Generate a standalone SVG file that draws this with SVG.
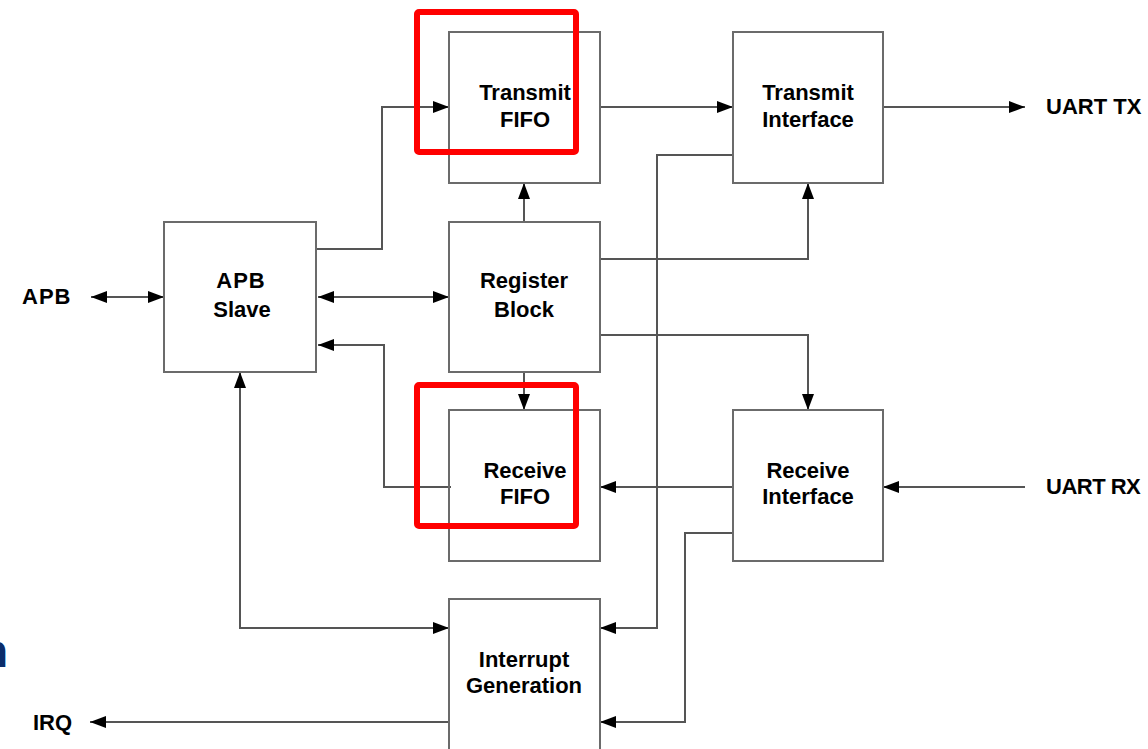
<svg xmlns="http://www.w3.org/2000/svg" width="1148" height="749" viewBox="0 0 1148 749">
<style>
.box{fill:#fff;stroke:#6b6b6b;stroke-width:2}
.lbl{font-family:"Liberation Sans",Arial,sans-serif;font-weight:bold;font-size:22px;fill:#000;text-anchor:middle}
.ext{font-family:"Liberation Sans",Arial,sans-serif;font-weight:bold;font-size:22px;fill:#000}
.c{fill:none;stroke:#555;stroke-width:2}
.hl{fill:none;stroke:#ff0000;stroke-width:6}
</style>
<defs>
<marker id="ah" viewBox="0 0 16 12" refX="16" refY="6" markerWidth="16" markerHeight="12" markerUnits="userSpaceOnUse" orient="auto-start-reverse">
<path d="M0,0 L16,6 L0,12 Z" fill="#000"/>
</marker>
</defs>
<rect width="1148" height="749" fill="#fff"/>
<text x="-20" y="667" font-family="'Liberation Sans',Arial,sans-serif" font-weight="bold" font-size="46" fill="#0b2d6b">n</text>
<g id="connectors">
<path class="c" d="M91,297 H164" marker-start="url(#ah)" marker-end="url(#ah)"/>
<path class="c" d="M318,297 H449" marker-start="url(#ah)" marker-end="url(#ah)"/>
<path class="c" d="M316,249 H382 V107 H449" marker-end="url(#ah)"/>
<path class="c" d="M451,487 H384 V345 H318" marker-end="url(#ah)"/>
<path class="c" d="M524,222 V183" marker-end="url(#ah)"/>
<path class="c" d="M524,372 V410" marker-end="url(#ah)"/>
<path class="c" d="M600,107 H733" marker-end="url(#ah)"/>
<path class="c" d="M883,107 H1025" marker-end="url(#ah)"/>
<path class="c" d="M600,259 H808 V183" marker-end="url(#ah)"/>
<path class="c" d="M600,335 H808 V410" marker-end="url(#ah)"/>
<path class="c" d="M733,155 H657 V628 H600" marker-end="url(#ah)"/>
<path class="c" d="M733,533 H685 V722 H600" marker-end="url(#ah)"/>
<path class="c" d="M1025,487 H883" marker-end="url(#ah)"/>
<path class="c" d="M733,487 H600" marker-end="url(#ah)"/>
<path class="c" d="M240,372 V628 H449" marker-start="url(#ah)" marker-end="url(#ah)"/>
<path class="c" d="M449,722 H90" marker-end="url(#ah)"/>
</g>
<g id="transmit-fifo">
<rect class="box" x="449" y="32" width="151" height="151" style="fill:none"/>
<text class="lbl" x="525" y="100">Transmit</text>
<text class="lbl" x="525" y="127">FIFO</text>
</g>
<g id="transmit-interface">
<rect class="box" x="733" y="32" width="150" height="151" style="fill:none"/>
<text class="lbl" x="808" y="100">Transmit</text>
<text class="lbl" x="808" y="127">Interface</text>
</g>
<g id="apb-slave">
<rect class="box" x="164" y="222" width="152" height="150" style="fill:none"/>
<text class="lbl" x="241" y="288" letter-spacing="1">APB</text>
<text class="lbl" x="242" y="317">Slave</text>
</g>
<g id="register-block">
<rect class="box" x="449" y="222" width="151" height="150" style="fill:none"/>
<text class="lbl" x="524" y="288">Register</text>
<text class="lbl" x="524" y="317">Block</text>
</g>
<g id="receive-fifo">
<rect class="box" x="449" y="410" width="151" height="151" style="fill:none"/>
<text class="lbl" x="525" y="478">Receive</text>
<text class="lbl" x="525" y="504">FIFO</text>
</g>
<g id="receive-interface">
<rect class="box" x="733" y="410" width="150" height="151" style="fill:none"/>
<text class="lbl" x="808" y="478">Receive</text>
<text class="lbl" x="808" y="504">Interface</text>
</g>
<g id="interrupt-generation">
<rect class="box" x="449" y="599" width="151" height="160" style="fill:none"/>
<text class="lbl" x="524" y="667">Interrupt</text>
<text class="lbl" x="524" y="693">Generation</text>
</g>
<g id="apb">
<text class="ext" x="22" y="304" letter-spacing="1">APB</text>
</g>
<g id="uart-tx">
<text class="ext" x="1046" y="114">UART TX</text>
</g>
<g id="uart-rx">
<text class="ext" x="1046" y="494" letter-spacing="-0.5">UART RX</text>
</g>
<g id="irq">
<text class="ext" x="33" y="730">IRQ</text>
</g>
<g id="highlights">
<rect class="hl" x="417" y="12" width="159" height="140" rx="2"/>
<rect class="hl" x="417" y="385" width="159" height="141" rx="2"/>
</g>
</svg>
